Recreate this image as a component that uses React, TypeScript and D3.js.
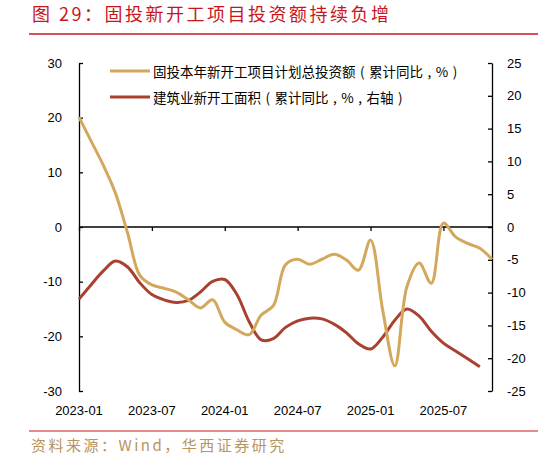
import React, { useEffect, useRef } from 'react';
import * as d3 from 'd3';

// months on the category axis, 2023-01 .. 2025-11
const months: string[] = [];
for (let y = 2023; y <= 2025; y++) {
  for (let m = 1; m <= 12; m++) {
    if (y === 2025 && m > 11) break;
    months.push(`${y}-${String(m).padStart(2, '0')}`);
  }
}

const tickMonths = ['2023-01', '2023-07', '2024-01', '2024-07', '2025-01', '2025-07'];
const leftTicks = [30, 20, 10, 0, -10, -20, -30];
const rightTicks = [25, 20, 15, 10, 5, 0, -5, -10, -15, -20, -25];

// 固投本年新开工项目计划总投资额 累计同比 (left axis)
const investYoY = [
  20.1, 15.7, 11.3, 6.2, -1.1, -8.8, -10.6, -11.2, -11.9, -13.3, -14.8, -13.3,
  -17.4, -18.8, -19.7, -16.1, -14.4, -6.9, -5.9, -6.8, -5.9, -5.0, -6.0, -7.9,
  -2.4, -15.2, -25.4, -10.9, -6.6, -10.3, 0.7, -1.8, -3.0, -3.9, -5.9,
];

// 建筑业新开工面积 累计同比 (right axis)
const areaYoY = [
  -11.0, -8.8, -6.7, -5.2, -6.1, -8.5, -10.3, -11.1, -11.5, -11.2, -9.9, -8.3,
  -8.0, -10.3, -14.4, -17.2, -17.0, -15.3, -14.3, -13.9, -14.0, -14.8, -16.1, -17.8,
  -18.6, -16.8, -14.2, -12.5, -13.6, -15.9, -17.7, -18.9, -20.1, -21.3,
];

const seriesNames = [
  '固投本年新开工项目计划总投资额（累计同比，%）',
  '建筑业新开工面积（累计同比，%，右轴）',
];

// full-width punctuation drawn centred in its cell, like the original
const centrePunct = (s: string) =>
  s.replace(/（/g, '\u2004(\u2004')
    .replace(/）/g, '\u2004)\u2004')
    .replace(/，/g, '\u2004,\u2004');

const App = () => {
  const svgRef = useRef(null);

  useEffect(() => {
    const svg = d3.select(svgRef.current);
    svg.selectAll('*').remove();

    const W = 538, H = 456;
    const left = 79, right = 492, top = 63, bottom = 391;
    const orange = '#d4a85c';
    const red = '#a8412f';
    const axisFont = '"Liberation Sans", Arial, sans-serif';
    const cjkFont = '"Noto Sans CJK SC", sans-serif';

    svg.append('rect').attr('width', W).attr('height', H).attr('fill', '#fff');

    // title
    svg.append('text')
      .attr('x', 32).attr('y', 21)
      .attr('fill', '#c8161d')
      .style('font-family', cjkFont)
      .style('font-size', '18px')
      .style('letter-spacing', '2.5px')
      .text('图 29：固投新开工项目投资额持续负增');

    svg.append('line')
      .attr('x1', 29).attr('x2', 538).attr('y1', 34).attr('y2', 34)
      .attr('stroke', '#c8161d').attr('stroke-width', 1.5);

    svg.append('line')
      .attr('x1', 29).attr('x2', 538).attr('y1', 431).attr('y2', 431)
      .attr('stroke', '#c8161d').attr('stroke-width', 1.2);

    svg.append('text')
      .attr('x', 31).attr('y', 451)
      .attr('fill', '#b8945e')
      .style('font-family', cjkFont)
      .style('font-size', '15px')
      .style('letter-spacing', '2.5px')
      .text('资料来源：Wind，华西证券研究');

    const x = d3.scalePoint()
      .domain(months)
      .range([left, right]);

    const yL = d3.scaleLinear().domain([-30, 30]).range([bottom, top]);
    const yR = d3.scaleLinear().domain([-25, 25]).range([bottom, top]);

    const styleAxis = (g) => {
      g.selectAll('path').attr('stroke', '#000').attr('stroke-width', 1.3);
      g.selectAll('line').attr('stroke', '#000').attr('stroke-width', 1.3);
      g.selectAll('text')
        .attr('fill', '#000')
        .style('font-family', axisFont)
        .style('font-size', '13px');
    };

    const plain = (d) => String(d);

    // left axis
    svg.append('g')
      .attr('transform', `translate(${left},0)`)
      .call(d3.axisLeft(yL).tickValues(leftTicks).tickFormat(plain)
        .tickSizeInner(-4).tickSizeOuter(0).tickPadding(17))
      .call(styleAxis);

    // right axis
    svg.append('g')
      .attr('transform', `translate(${right},0)`)
      .call(d3.axisRight(yR).tickValues(rightTicks).tickFormat(plain)
        .tickSizeInner(-4).tickSizeOuter(0).tickPadding(15))
      .call(styleAxis);

    // zero line with month ticks
    const xAxis = svg.append('g')
      .attr('transform', `translate(0,${yL(0)})`)
      .call(d3.axisBottom(x).tickValues(tickMonths).tickSizeInner(4).tickSizeOuter(0).tickFormat(() => ''))
      .call(styleAxis);
    xAxis.select('.domain').attr('d', `M${left},0H${right}`);

    // month labels at the bottom
    svg.append('g')
      .selectAll('text')
      .data(tickMonths)
      .enter().append('text')
      .attr('x', d => x(d))
      .attr('y', 415)
      .attr('text-anchor', 'middle')
      .attr('fill', '#000')
      .style('font-family', axisFont)
      .style('font-size', '13px')
      .text(d => d);

    const lineL = d3.line<number>()
      .x((_, i) => x(months[i]))
      .y(d => yL(d))
      .curve(d3.curveCatmullRom.alpha(0.5));

    const lineR = d3.line<number>()
      .x((_, i) => x(months[i]))
      .y(d => yR(d))
      .curve(d3.curveCatmullRom.alpha(0.5));

    svg.append('path')
      .datum(areaYoY)
      .attr('d', lineR)
      .attr('fill', 'none')
      .attr('stroke', red)
      .attr('stroke-width', 3);

    svg.append('path')
      .datum(investYoY)
      .attr('d', lineL)
      .attr('fill', 'none')
      .attr('stroke', orange)
      .attr('stroke-width', 3);

    // legend
    const legend = svg.append('g');
    [orange, red].forEach((c, i) => {
      const ly = 71 + i * 26;
      legend.append('line')
        .attr('x1', 110).attr('x2', 150).attr('y1', ly).attr('y2', ly)
        .attr('stroke', c).attr('stroke-width', 3);
      legend.append('text')
        .attr('x', 153).attr('y', ly)
        .attr('dominant-baseline', 'central')
        .attr('fill', '#000')
        .style('font-family', cjkFont)
        .style('font-size', '13.5px')
        .style('white-space', 'pre')
        .text(centrePunct(seriesNames[i]));
    });
  }, []);

  return (
    <svg
      ref={svgRef}
      width="538"
      height="456"
      style={{ position: 'absolute', left: 0, top: 0 }}
    ></svg>
  );
};

export default App;
